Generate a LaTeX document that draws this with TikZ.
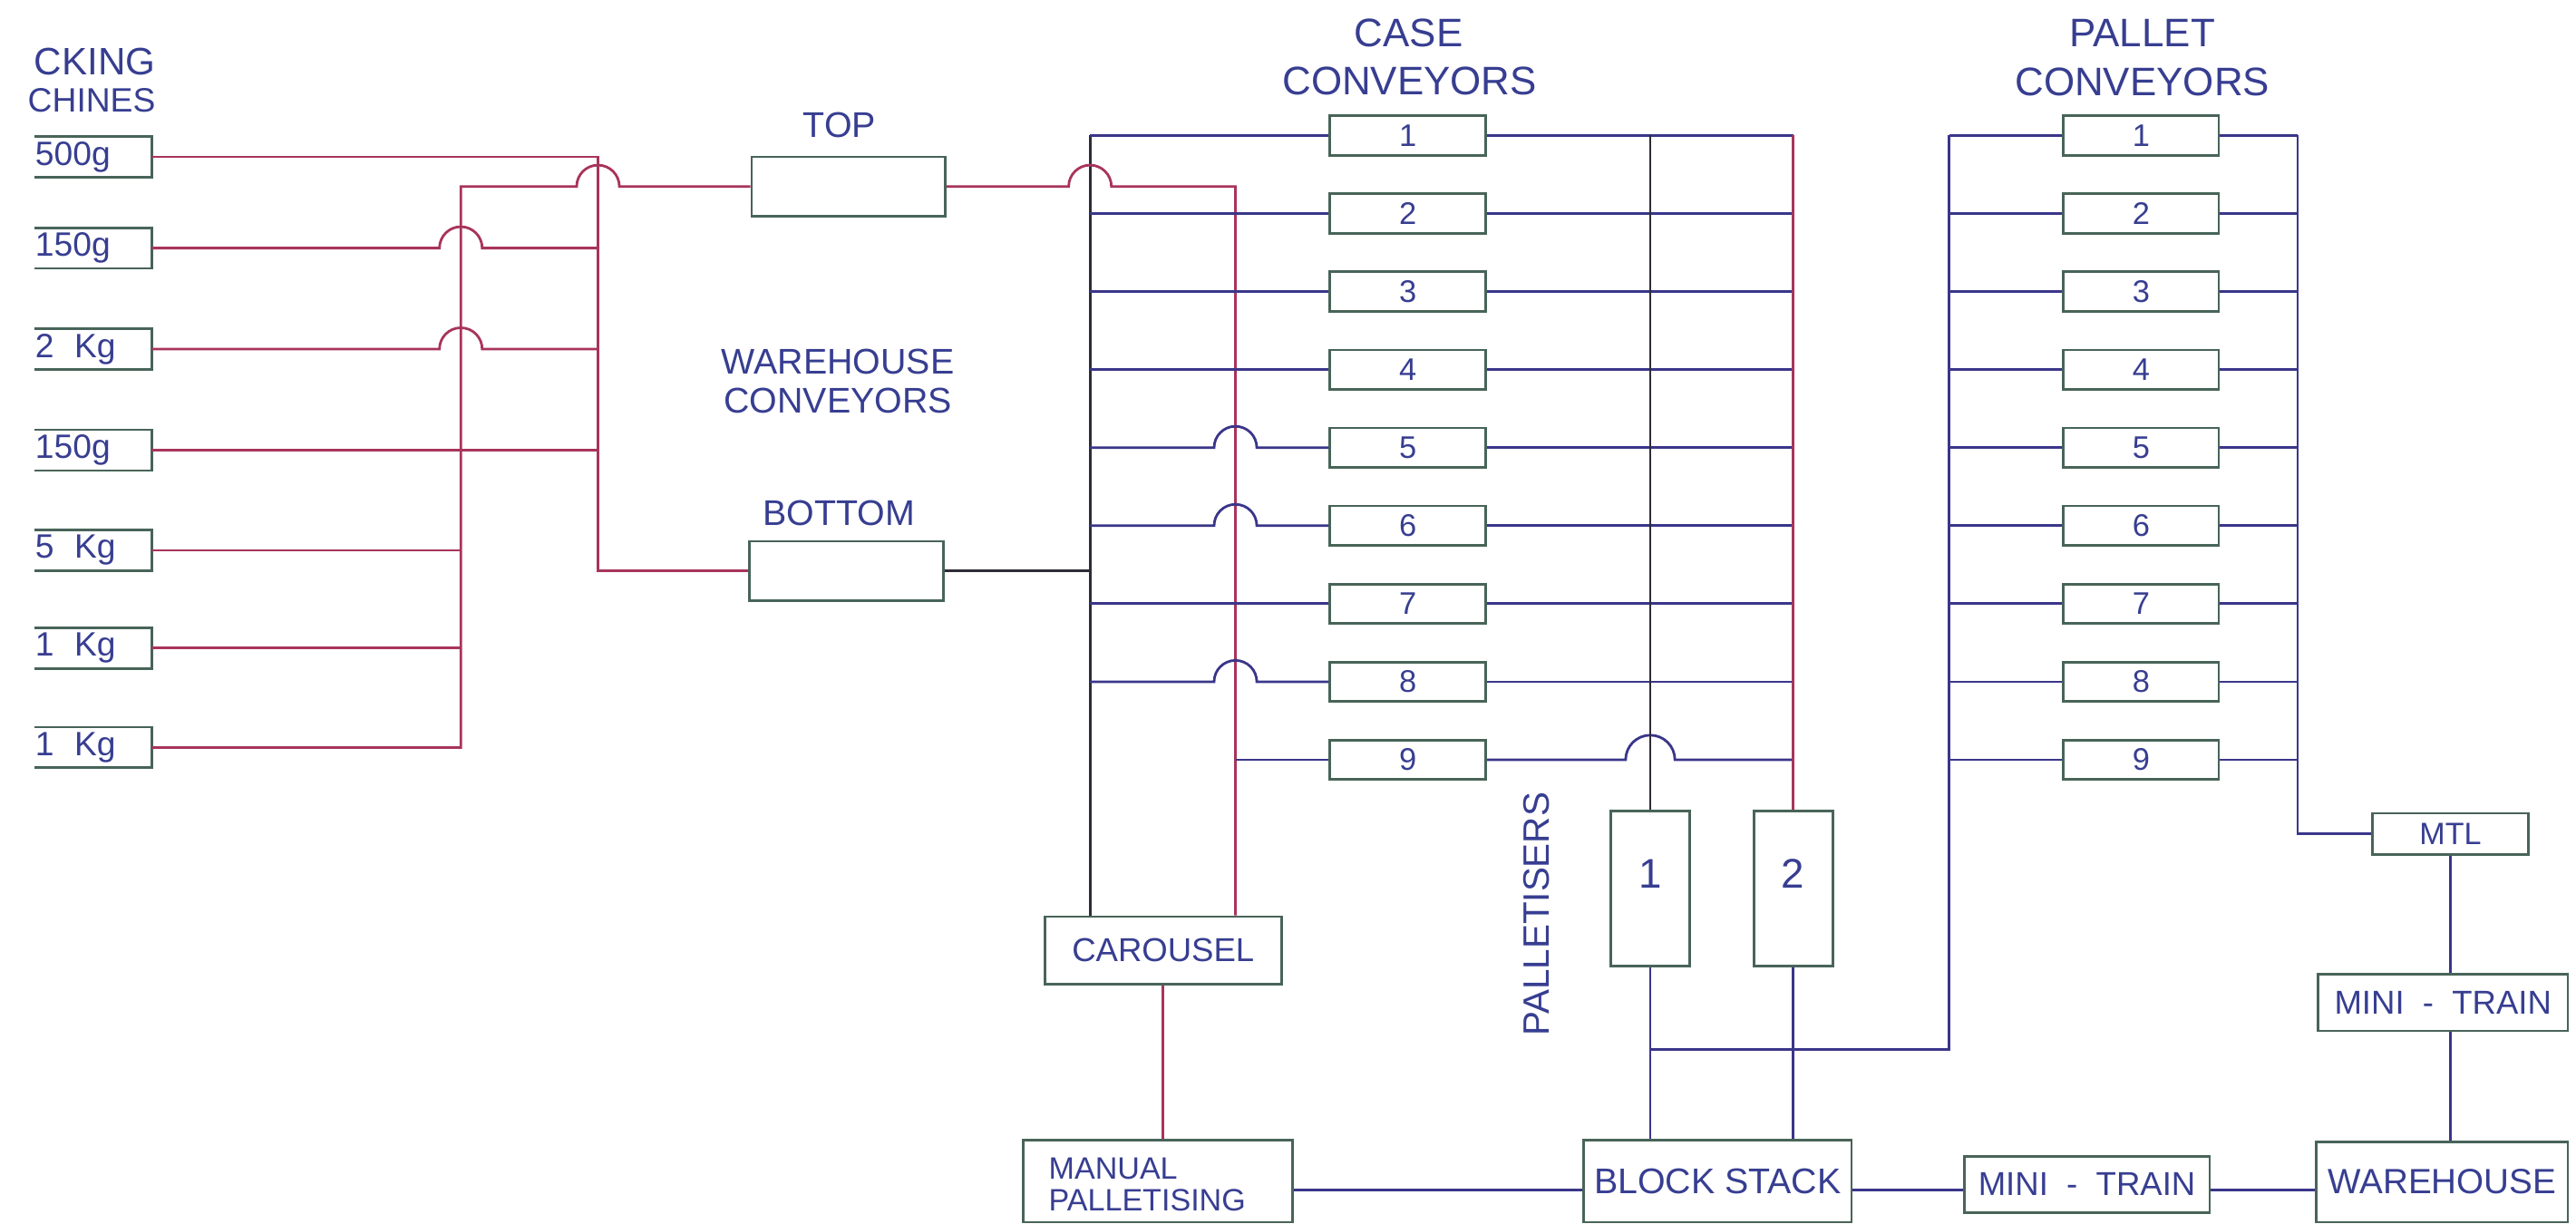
\documentclass[tikz,border=0pt]{standalone}
\usepackage{fontspec}
\setmainfont{Liberation Sans}
\definecolor{txtc}{RGB}{55,62,145}
\definecolor{boxc}{RGB}{72,100,88}
\definecolor{redc}{RGB}{168,52,92}
\definecolor{bluec}{RGB}{58,54,138}
\definecolor{blackc}{RGB}{45,45,55}
\newcommand{\hr}{0.2356cm}
\newcommand{\hrb}{0.2718cm}
\newcommand{\fs}[1]{\fontsize{#1}{#1}\selectfont}
\begin{document}
\begin{tikzpicture}[x=0.01812cm,y=-0.01812cm,
  ln/.style={line width=0.8pt},
  rl/.style={ln, draw=redc},
  bl/.style={ln, draw=bluec},
  kl/.style={ln, draw=blackc},
  bx/.style 2 args={draw=boxc, line width=0.8pt, minimum width=#1, minimum height=#2, inner sep=0pt, text=txtc},
  lbl/.style={text=txtc, inner sep=0pt},
  mbox/.style={inner sep=0pt, text width=1.2775cm, minimum height=0.4349cm, align=left, text=txtc, font=\fs{10.6}},
]
\useasboundingbox (0,0) rectangle (1568,745);
\fill[white] (0,0) rectangle (1568,745);

% ---------- packing machines ----------
\node[lbl, anchor=east, font=\fs{12}] (pk1) at (95,37.75) {CKING};
\node[lbl, anchor=east, font=\fs{10.6}] (pk2) at (95,61) {CHINES};
\foreach \n/\y/\t in {1/95.5/{500g},2/151/{150g},3/212.5/{2\hspace{0.6em}Kg},4/274/{150g},5/335/{5\hspace{0.6em}Kg},6/394.5/{1\hspace{0.6em}Kg},7/455/{1\hspace{0.6em}Kg}}{
  \node[mbox] (m\n) at (56.75,\y) {\t};
  \draw[ln, draw=boxc] (m\n.north west) -- (m\n.north east) -- (m\n.south east) -- (m\n.south west);
}

% ---------- warehouse conveyors ----------
\node[bx={2.1382cm}{0.6523cm}] (top) at (516.5,113.5) {};
\node[bx={2.1472cm}{0.6523cm}] (bot) at (515.25,347.5) {};
\node[lbl, font=\fs{11.2}] (toplbl) at (511,76) {TOP};
\node[lbl, font=\fs{11.2}] (botlbl) at (510.5,312.5) {BOTTOM};
\node[lbl, align=center, font=\fontsize{11.2}{12.1}\selectfont] (whc) at (510,232) {WAREHOUSE\\CONVEYORS};

\coordinate (x1t) at (280.5,113.5);
\coordinate (x1b) at (280.5,455);
\coordinate (x2t) at (364,95.5);
\coordinate (x2b) at (364,347.5);

\draw[rl] (m1.east) -- (x2t) -- (x2b) -- (bot.west);
\draw[rl] (m7.east) -- (x1b) -- (x1t) -- (351,113.5) arc[start angle=180,end angle=0,radius=\hr] -- (top.west);
\draw[rl] (m2.east) -- (267.5,151) arc[start angle=180,end angle=0,radius=\hr] -- (364,151);
\draw[rl] (m3.east) -- (267.5,212.5) arc[start angle=180,end angle=0,radius=\hr] -- (364,212.5);
\draw[rl] (m4.east) -- (364,274);
\draw[rl] (m5.east) -- (280.5,335);
\draw[rl] (m6.east) -- (280.5,394.5);

% ---------- case conveyors ----------
\node[lbl, font=\fs{12.5}] (caseh1) at (857.5,20) {CASE};
\node[lbl, font=\fs{12.5}] (caseh2) at (858,49.5) {CONVEYORS};
\foreach \k/\y in {1/82.5,2/130,3/177.5,4/225,5/272.5,6/320,7/367.5,8/415,9/462.5}
  \node[bx={1.7214cm}{0.4349cm}, font=\fs{9.8}] (c\k) at (857,\y) {\k};

\node[bx={2.6093cm}{0.7429cm}, font=\fs{10.4}] (car) at (708,578.5) {CAROUSEL};

\coordinate (cbt) at (663.5,82.5);
\coordinate (x3t) at (752,113.5);
\draw[kl] (cbt) -- (cbt |- car.north);
\draw[kl] (bot.east) -- (bot.east -| cbt);
\draw[rl] (top.east) -- (650.5,113.5) arc[start angle=180,end angle=0,radius=\hr] -- (x3t) -- (x3t |- car.north);
\foreach \k in {1,2,3,4,7}
  \draw[bl] (c\k.west -| cbt) -- (c\k.west);
\foreach \k in {5,6,8}
  \draw[bl] (c\k.west -| cbt) -- ++(75.5,0) arc[start angle=180,end angle=0,radius=\hr] -- (c\k.west);
\draw[bl] (c9.west -| x3t) -- (c9.west);

% ---------- palletisers ----------
\node[bx={0.8698cm}{1.7123cm}] (p1) at (1004.5,540.75) {};
\node[bx={0.8698cm}{1.7123cm}] (p2) at (1091.5,540.75) {};
\node[lbl, font=\fs{13}] (p1l) at (1004.5,532) {1};
\node[lbl, font=\fs{13}] (p2l) at (1091.5,532) {2};
\node[lbl, font=\fs{11.5}, rotate=90] (pal) at (935.5,556.5) {PALLETISERS};

\coordinate (kbt) at (1004.5,82.5);
\coordinate (rbt) at (1091.5,82.5);
\foreach \k in {1,...,8}
  \draw[bl] (c\k.east) -- (c\k.east -| rbt);
\draw[bl] (c9.east) -- (989.5,462.5) arc[start angle=180,end angle=0,radius=\hrb] -- (c9.east -| rbt);
\draw[kl] (kbt) -- (p1.north);
\draw[rl] (rbt) -- (p2.north);

% ---------- pallet conveyors ----------
\node[lbl, font=\fs{12.5}] (palh1) at (1304,20) {PALLET};
\node[lbl, font=\fs{12.5}] (palh2) at (1304,50) {CONVEYORS};
\foreach \k/\y in {1/82.5,2/130,3/177.5,4/225,5/272.5,6/320,7/367.5,8/415,9/462.5}
  \node[bx={1.7123cm}{0.4349cm}, font=\fs{9.8}] (q\k) at (1303.25,\y) {\k};

\node[bx={1.7214cm}{0.453cm}, font=\fs{9.7}] (mtl) at (1491.5,507.5) {MTL};
\node[bx={2.7542cm}{0.6251cm}, font=\fs{10.4}] (mt2) at (1487,610.25) {MINI~~-~~TRAIN};
\node[bx={2.7724cm}{0.8879cm}, font=\fs{11}] (wh) at (1486.5,719.5) {WAREHOUSE};

\coordinate (plt) at (1186.5,82.5);
\coordinate (prt) at (1398.5,82.5);
\foreach \k in {1,...,9}{
  \draw[bl] (q\k.west -| plt) -- (q\k.west);
  \draw[bl] (q\k.east) -- (q\k.east -| prt);
}
\draw[bl] (prt) -- (prt |- mtl.west) -- (mtl.west);

% ---------- bottom row ----------
\node[bx={2.9717cm}{0.906cm}] (man) at (705,719) {};
\node[lbl, anchor=west, align=left, font=\fontsize{9.7}{10.2}\selectfont] (manl) at (638,721) {MANUAL\\PALLETISING};
\node[bx={2.9536cm}{0.906cm}, font=\fs{11.2}] (bs) at (1045.5,719) {BLOCK STACK};
\node[bx={2.7089cm}{0.6233cm}, font=\fs{10.4}] (mt1) at (1270.25,721) {MINI~~-~~TRAIN};

\coordinate (hh) at (0,639);
\coordinate (hy) at (0,724.5);
\draw[bl] (p1.south) -- (p1.south |- bs.north);
\draw[bl] (p2.south) -- (p2.south |- bs.north);
\draw[bl] (p1.south |- hh) -- (plt |- hh) -- (plt);
\draw[rl] (car.south) -- (car.south |- man.north);
\draw[bl] (man.east |- hy) -- (bs.west |- hy);
\draw[bl] (bs.east |- hy) -- (mt1.west |- hy);
\draw[bl] (mt1.east |- hy) -- (wh.west |- hy);
\draw[bl] (mtl.south) -- (mtl.south |- mt2.north);
\draw[bl] (mtl.south |- mt2.south) -- (mtl.south |- wh.north);
\end{tikzpicture}
\end{document}
